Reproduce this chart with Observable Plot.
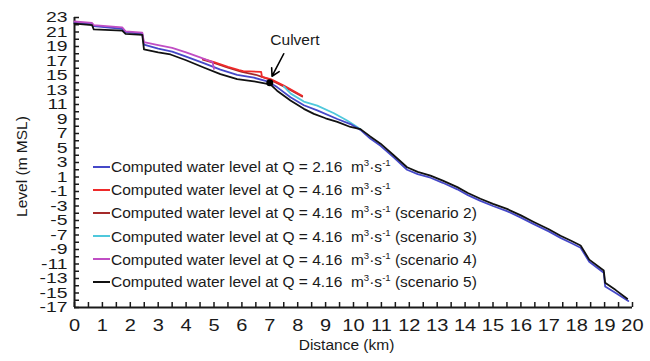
<!DOCTYPE html>
<html><head><meta charset="utf-8">
<script src="https://cdn.jsdelivr.net/npm/d3@7"></script>
<script src="https://cdn.jsdelivr.net/npm/@observablehq/plot@0.6"></script>
<style>
body{margin:0;background:#fff;}
#chart{position:relative;width:650px;height:361px;font-family:Arial,"Liberation Sans",sans-serif;color:#1a1a1a;}
.leg{position:absolute;left:93px;font-size:15.5px;line-height:18px;height:18px;white-space:nowrap;}
.leg .sw{display:inline-block;width:17px;height:2px;vertical-align:middle;margin-right:1px;position:relative;top:-1px}
.leg sup{font-size:0.62em;line-height:0;}
</style></head><body><div id="chart"></div>
<script>
// ---- data ----
const seriesNames = ["Q216", "Q416", "S2", "S3", "S4", "S5"];
const legendLabels = [
  "Computed water level at Q = 2.16",
  "Computed water level at Q = 4.16",
  "Computed water level at Q = 4.16",
  "Computed water level at Q = 4.16",
  "Computed water level at Q = 4.16",
  "Computed water level at Q = 4.16"
];
const legendSuffix = ["", "", " (scenario 2)", " (scenario 3)", " (scenario 4)", " (scenario 5)"];
const seriesColors = ["#4548c8", "#ee2a2a", "#a52a2a", "#4fc8dc", "#c04ec4", "#111111"];

const kmQ216 = [0, 0.63, 0.69, 1.71, 1.83, 2.43, 2.49, 3.0, 3.5, 4.0, 4.63, 5.23, 5.83, 6.43, 6.91, 7.0, 7.26, 7.74, 8.22, 8.7, 9.42, 9.89, 10.25, 10.6, 10.97, 11.44, 11.92, 12.3, 12.76, 13.2, 13.72, 14.1, 14.55, 15.0, 15.5, 16.0, 16.46, 17.0, 17.42, 17.8, 18.14, 18.45, 18.97, 19.02, 19.4, 19.85];
const lvQ216 = [22.3, 22.1, 21.8, 21.45, 21.0, 20.75, 19.25, 18.7, 18.3, 17.6, 16.7, 15.8, 15.1, 14.7, 14.2, 14.0, 13.4, 12.0, 10.9, 10.2, 9.0, 8.3, 7.5, 6.3, 5.3, 3.7, 2.0, 1.4, 0.9, 0.2, -0.7, -1.5, -2.3, -3.0, -3.7, -4.6, -5.5, -6.5, -7.4, -8.1, -8.75, -10.7, -12.2, -14.1, -15.0, -16.1];

const kmQ416 = [4.6, 5.0, 5.5, 5.9, 6.05, 6.69, 6.72, 7.03, 7.5, 8.16];
const lvQ416 = [17.3, 16.85, 16.2, 15.75, 15.6, 15.5, 14.8, 14.5, 13.6, 12.2];

const kmS2 = [4.6, 5.0, 5.5, 6.0, 6.5, 6.72, 7.03, 7.5, 8.16];
const lvS2 = [17.2, 16.75, 16.1, 15.5, 15.1, 14.8, 14.4, 13.5, 12.1];

const kmS3 = [7.5, 7.75, 8.22, 8.7, 9.3, 9.77, 10.05, 10.25];
const lvS3 = [13.5, 12.5, 11.4, 10.85, 9.8, 8.8, 8.1, 7.6];

const kmS4 = [0, 0.63, 0.69, 1.71, 1.83, 2.43, 2.49, 3.0, 3.5, 4.0, 4.5, 4.95, 5.0];
const lvS4 = [22.45, 22.25, 21.95, 21.65, 21.1, 20.9, 19.6, 19.2, 18.8, 18.2, 17.5, 16.85, 15.9];

const kmS5 = [0, 0.63, 0.69, 1.71, 1.83, 2.43, 2.49, 3.0, 3.44, 4.0, 4.63, 5.23, 5.83, 6.43, 6.91, 7.03, 7.26, 7.74, 8.22, 8.58, 9.0, 9.42, 9.89, 10.25, 10.6, 10.97, 11.44, 11.92, 12.3, 12.76, 13.2, 13.72, 14.1, 14.55, 15.0, 15.5, 16.0, 16.46, 17.0, 17.42, 17.8, 18.14, 18.45, 18.97, 19.02, 19.4, 19.81];
const lvS5 = [22.15, 21.95, 21.35, 21.2, 20.75, 20.6, 18.6, 18.2, 17.9, 17.1, 16.1, 15.2, 14.5, 14.2, 13.85, 13.75, 12.9, 11.55, 10.4, 9.7, 9.1, 8.6, 7.9, 7.6, 6.6, 5.6, 4.0, 2.35, 1.7, 1.2, 0.5, -0.4, -1.2, -2.0, -2.7, -3.4, -4.3, -5.2, -6.2, -7.1, -7.8, -8.45, -10.4, -11.9, -13.6, -14.6, -15.8];

const culvertKm = [7.0];
const culvertLevel = [14.0];
const culvertLabel = "Culvert";

const xTickLabels = [0,1,2,3,4,5,6,7,8,9,10,11,12,13,14,15,16,17,18,19,20];
const yTickLabels = [-17,-15,-13,-11,-9,-7,-5,-3,-1,1,3,5,7,9,11,13,15,17,19,21,23];
const xLabel = "Distance (km)";
const yLabel = "Level (m MSL)";

// ---- build table ----
const kms = [kmQ216, kmQ416, kmS2, kmS3, kmS4, kmS5];
const lvs = [lvQ216, lvQ416, lvS2, lvS3, lvS4, lvS5];
const rows = seriesNames.flatMap((s, i) => kms[i].map((k, j) => ({series: s, km: k, level: lvs[i][j]})));
const culvert = culvertKm.map((k, i) => ({km: k, level: culvertLevel[i]}));
const note = [{x1: 7.5, y1: 18.0, x2: 7.08, y2: 14.9, tx: 7.9, ty: 19.9}];

const drawOrder = ["S2", "Q416", "S3", "Q216", "S4", "S5"];
const colorOf = Object.fromEntries(seriesNames.map((s, i) => [s, seriesColors[i]]));

const W = 650, H = 361, mL = 74, mR = 18, mT = 17, mB = 54;
const plot = Plot.plot({
  width: W, height: H,
  marginLeft: mL, marginRight: mR, marginTop: mT, marginBottom: mB,
  x: {domain: [0, 20]},
  y: {domain: [-17, 23]},
  style: {fontFamily: "Arial, 'Liberation Sans', sans-serif", fontSize: "16px", color: "#1a1a1a", background: "white", overflow: "visible"},
  marks: [
    Plot.tickX(d3.range(0, 20.01, 0.5), {x: d => d, insetTop: (H - mT - mB) - 5, stroke: "#1a1a1a", strokeWidth: 1.5}),
    Plot.tickY(d3.range(-17, 23.01, 1), {y: d => d, insetRight: (W - mL - mR) - 5, stroke: "#1a1a1a", strokeWidth: 1.5}),
    Plot.axisX({ticks: xTickLabels, tickSize: 0, tickPadding: 12, tickFormat: d => String(d), label: null, fontSize: 16}),
    Plot.axisY({ticks: yTickLabels, tickSize: 0, tickPadding: 7, tickFormat: d => d < 0 ? "-" + Math.abs(d) : String(d), label: null, fontSize: 15.5}),
    Plot.ruleX([0], {stroke: "#1a1a1a", strokeWidth: 2}),
    Plot.ruleY([-17], {stroke: "#1a1a1a", strokeWidth: 2}),
    ...drawOrder.map(s => Plot.line(rows.filter(r => r.series === s), {x: "km", y: "level", stroke: colorOf[s], strokeWidth: 1.8})),
    Plot.dot(culvert, {x: "km", y: "level", r: 3.5, fill: "#000"}),
    Plot.arrow(note, {x1: "x1", y1: "y1", x2: "x2", y2: "y2", stroke: "#000", strokeWidth: 1.6, headLength: 8}),
    Plot.text(note, {x: "tx", y: "ty", text: () => culvertLabel, fontSize: 15.5, fill: "#1a1a1a"}),
    Plot.text([yLabel], {text: d => d, frameAnchor: "left", textAnchor: "middle", lineAnchor: "middle", rotate: -90, dx: -52, dy: 4, fontSize: 15.5, fill: "#1a1a1a"}),
    Plot.text([xLabel], {text: d => d, frameAnchor: "bottom", textAnchor: "middle", lineAnchor: "middle", dx: -7, dy: 38, fontSize: 15.5, fill: "#1a1a1a"})
  ]
});
// widen the tick labels horizontally like the reference's stretched digits
d3.select(plot).selectAll('g[aria-label="y-axis tick label"] text, g[aria-label="x-axis tick label"] text').each(function() {
  const t = this.getAttribute("transform");
  if (t) this.setAttribute("transform", t + " scale(1.25,1)");
  else {
    const x = this.getAttribute("x") || 0, y = this.getAttribute("y") || 0;
    this.removeAttribute("x"); this.removeAttribute("y");
    this.setAttribute("transform", `translate(${x},${y}) scale(1.25,1)`);
  }
});
const chart = document.getElementById("chart");
chart.appendChild(plot);

const rowTop = [158, 181, 204, 227.5, 250.5, 273];
seriesNames.forEach((s, i) => {
  const div = document.createElement("div");
  div.className = "leg";
  div.style.top = rowTop[i] + "px";
  div.innerHTML = `<span class="sw" style="background:${seriesColors[i]}"></span>${legendLabels[i]}&nbsp; m<sup>3</sup>·s<sup>-1</sup>${legendSuffix[i]}`;
  chart.appendChild(div);
});
</script>
</body></html>
